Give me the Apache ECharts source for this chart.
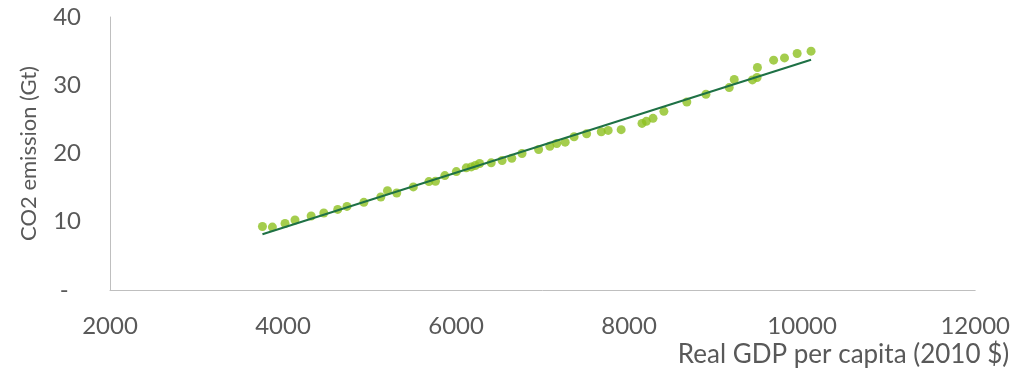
<!DOCTYPE html>
<html>
<head>
<meta charset="utf-8">
<script src="https://cdn.jsdelivr.net/npm/echarts@6/dist/echarts.min.js"></script>
<style>
html,body{margin:0;padding:0;background:#fff;}
#chart{width:1013px;height:375px;}
</style>
</head>
<body>
<div id="chart"></div>
<script>
// GDP per capita (2010 $) and CO2 emission (Gt)
const gdpPerCapita = [3762, 3877, 4023, 4138, 4325, 4471, 4632, 4739, 4934, 5130,
  5207, 5314, 5506, 5686, 5762, 5870, 6003, 6118, 6176, 6222,
  6272, 6406, 6532, 6644, 6762, 6954, 7084, 7164, 7261, 7364,
  7509, 7678, 7758, 7908, 8149, 8199, 8276, 8402, 8667, 8888,
  9157, 9215, 9425, 9479, 9483, 9670, 9796, 9942, 10103];
const co2Emission = [9.31, 9.22, 9.75, 10.25, 10.84, 11.28, 11.81, 12.25, 12.84, 13.63,
  14.56, 14.22, 15.10, 15.88, 15.93, 16.76, 17.35, 17.90, 18.04, 18.24,
  18.53, 18.63, 18.97, 19.31, 20.00, 20.59, 21.07, 21.47, 21.66, 22.46,
  22.90, 23.19, 23.38, 23.49, 24.41, 24.71, 25.15, 26.18, 27.54, 28.68,
  29.66, 30.84, 30.78, 31.13, 32.60, 33.68, 34.01, 34.66, 35.00];
const xTicks = [2000, 4000, 6000, 8000, 10000, 12000];
const yTicks = [0, 10, 20, 30, 40];
const xTitle = 'Real GDP per capita (2010 $)';
const yTitle = 'CO2 emission (Gt)';

// Linear trendline (least squares) over the data range
const n = gdpPerCapita.length;
let sx = 0, sy = 0, sxx = 0, sxy = 0;
for (let i = 0; i < n; i++) {
  const x = gdpPerCapita[i], y = co2Emission[i];
  sx += x; sy += y; sxx += x * x; sxy += x * y;
}
const slope = (n * sxy - sx * sy) / (n * sxx - sx * sx);
const intercept = (sy - slope * sx) / n;
const xMin = Math.min(...gdpPerCapita), xMax = Math.max(...gdpPerCapita);
const trend = [[xMin, intercept + slope * xMin], [xMax, intercept + slope * xMax]];

const FONT = 'Lato';
const chart = echarts.init(document.getElementById('chart'), null, {renderer: 'canvas'});
chart.setOption({
  animation: false,
  backgroundColor: '#ffffff',
  grid: {left: 110, right: 33, top: 17, bottom: 85, containLabel: false},
  xAxis: {
    type: 'value',
    min: xTicks[0], max: xTicks[xTicks.length - 1], interval: xTicks[1] - xTicks[0],
    axisLine: {show: true, lineStyle: {color: '#BFBFBF', width: 1}},
    axisTick: {show: false},
    splitLine: {show: false},
    axisLabel: {color: '#595959', fontSize: 24, fontFamily: FONT, margin: 24,
      formatter: v => String(v)},
    name: xTitle,
    nameLocation: 'end',
    nameGap: 34,
    nameTextStyle: {color: '#595959', fontSize: 26, fontFamily: FONT, align: 'right', verticalAlign: 'top', padding: [52, 0, 0, 0]}
  },
  yAxis: {
    type: 'value',
    min: yTicks[0], max: yTicks[yTicks.length - 1], interval: yTicks[1] - yTicks[0],
    axisLine: {show: true, lineStyle: {color: '#BFBFBF', width: 1}},
    axisTick: {show: false},
    splitLine: {show: false},
    axisLabel: {color: '#595959', fontSize: 24, fontFamily: FONT, margin: 29,
      formatter: v => v === 0 ? '-  ' : String(v)},
    name: yTitle,
    nameLocation: 'middle',
    nameGap: 70,
    nameTextStyle: {color: '#595959', fontSize: 22, fontFamily: FONT}
  },
  series: [
    {
      type: 'scatter',
      data: gdpPerCapita.map((x, i) => [x, co2Emission[i]]),
      symbol: 'circle',
      symbolSize: 9,
      itemStyle: {color: '#8DC021'},
      z: 2
    },
    {
      type: 'line',
      data: trend,
      showSymbol: false,
      symbol: 'none',
      lineStyle: {color: '#1E7145', width: 2},
      z: 3
    }
  ]
});
</script>
</body>
</html>
